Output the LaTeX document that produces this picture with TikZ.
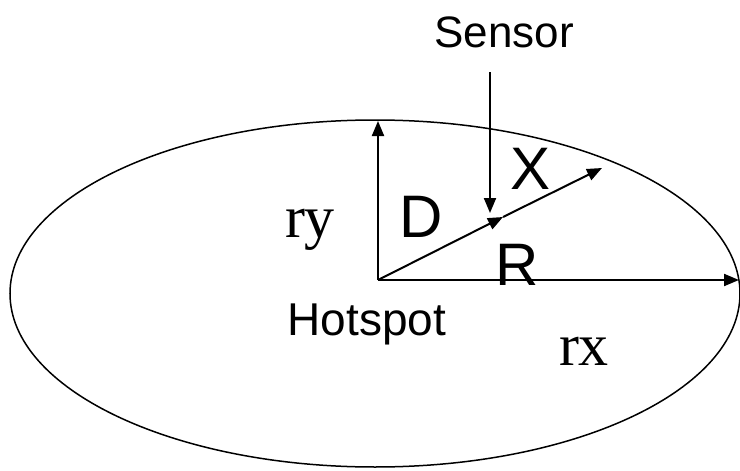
\documentclass[tikz,border=0pt]{standalone}
\usepackage{fontspec}
\setmainfont{Liberation Serif}
\newfontfamily\arialf{Liberation Sans}
\usetikzlibrary{arrows.meta}
\tikzset{
  arr/.style={line width=2pt,-{Triangle[length=15pt,width=12pt]}},
  sanslbl/.style={inner sep=0pt,anchor=base,font=\arialf\fontsize{44}{48}\selectfont},
  biglbl/.style={inner sep=0pt,anchor=base,font=\arialf\fontsize{60}{64}\selectfont},
  seriflbl/.style={inner sep=0pt,anchor=base,font=\fontsize{60}{64}\selectfont},
}
\begin{document}
\begin{tikzpicture}[x=1pt,y=-1pt]
\useasboundingbox (0,0) rectangle (740,471);
\draw[line width=1.5pt] (375,293.5) ellipse [x radius=365, y radius=173.5];
\coordinate (O) at (378,280);
\coordinate (T) at (378,121);
\coordinate (Rt) at (739,280);
\coordinate (M) at (503,217);
\coordinate (E) at (602,168);
\coordinate (S0) at (490,72);
\coordinate (S1) at (490,213);
\draw[arr] (O) -- (T);
\draw[arr] (O) -- (Rt);
\draw[arr] (O) -- (M);
\draw[arr] (M) -- (E);
\draw[arr] (S0) -- (S1);
\node[sanslbl] (sensor) at (504,47) {Sensor};
\node[sanslbl,font=\arialf\fontsize{46}{50}\selectfont] (hot) at (367,335) {Hotspot};
\node[biglbl] (X) at (531,189) {X};
\node[biglbl] (D) at (421,237) {D};
\node[biglbl] (R) at (517,285) {R};
\node[seriflbl] (ry) at (310,237) {ry};
\node[seriflbl] (rx) at (584,365) {rx};
\end{tikzpicture}
\end{document}
